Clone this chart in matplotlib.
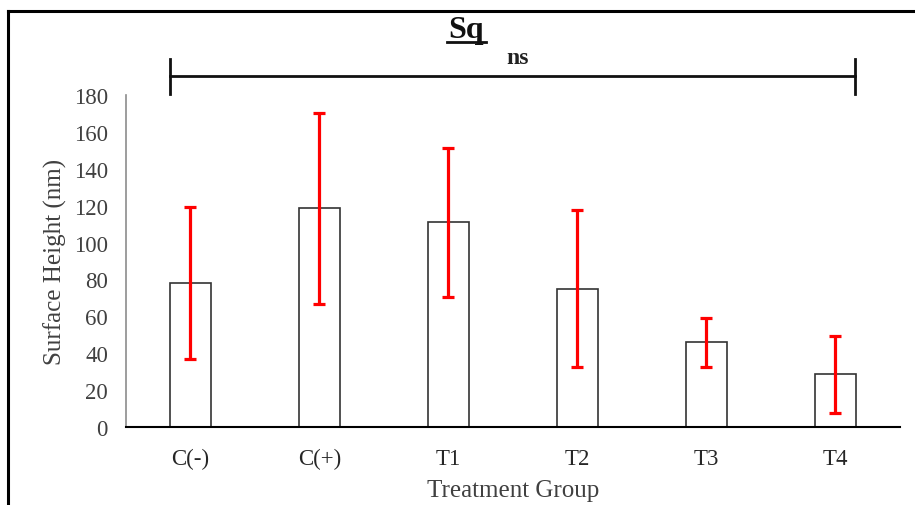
import matplotlib
matplotlib.use("Agg")
import matplotlib.pyplot as plt
from matplotlib.lines import Line2D

categories = ["C(-)", "C(+)", "T1", "T2", "T3", "T4"]
means = [78, 118.5, 111, 75, 46, 28.5]
errors = [41, 52, 40.5, 42.5, 13.3, 21]
yticks = [0, 20, 40, 60, 80, 100, 120, 140, 160, 180]

plt.rcParams['font.family'] = ['Liberation Serif', 'DejaVu Serif']

fig = plt.figure(figsize=(9.15, 5.06), dpi=100)
ax = fig.add_axes([0.1377, 0.1542, 0.8459, 0.6561])

x = list(range(len(categories)))
ax.bar(x, means, width=0.32, color="white", edgecolor="#333333", linewidth=1.2, zorder=2)
ax.errorbar(x, means, yerr=errors, fmt="none", ecolor="#ff0000", elinewidth=2.3,
            capsize=4.5, capthick=2.3, zorder=3)

ax.set_xlim(-0.5, 5.5)
ax.set_ylim(0, 180)
ax.set_yticks(yticks)
ax.set_xticks(x)
ax.set_xticklabels(categories, fontsize=16.5, color="#262626")
ax.tick_params(axis="y", labelsize=16.5, length=0, pad=13, labelcolor="#404040")
ax.tick_params(axis="x", length=0, pad=15)
for s in ["top", "right"]:
    ax.spines[s].set_visible(False)
ax.spines["left"].set_color("#8c8c8c")
ax.spines["left"].set_linewidth(1.2)
ax.spines["bottom"].set_color("#000000")
ax.spines["bottom"].set_linewidth(1.5)

ax.set_ylabel("Surface Height (nm)", fontsize=18, color="#404040", labelpad=5)
ax.set_xlabel("Treatment Group", fontsize=18, color="#404040", labelpad=7)

# significance bracket (axes fraction coordinates)
bl, br, by, bt, bb = 0.057, 0.942, 1.057, 1.108, 1.003
for seg in ([(bl, br), (by, by)], [(bl, bl), (bb, bt)], [(br, br), (bb, bt)]):
    ax.add_line(Line2D(seg[0], seg[1], transform=ax.transAxes, color="#111111",
                       linewidth=2, clip_on=False))
ax.text(0.506, 1.112, "ns", transform=ax.transAxes, fontsize=17, fontweight="bold",
        ha="center", va="center", color="#222222")

# title
fig.text(0.509, 0.925, "Sq", fontsize=23, fontweight="bold", ha="center",
         va="baseline", color="#111111")
fig.add_artist(Line2D([447 / 915, 486 / 915], [1 - 43 / 506, 1 - 43 / 506],
                      transform=fig.transFigure, color="#111111", linewidth=2))

# outer frame (top and left edges)
fig.add_artist(Line2D([8 / 915, 1.0], [1 - 12 / 506, 1 - 12 / 506],
                      transform=fig.transFigure, color="black", linewidth=2.2))
fig.add_artist(Line2D([8 / 915, 8 / 915], [0.0, 1 - 12 / 506],
                      transform=fig.transFigure, color="black", linewidth=2.2))

fig.savefig("out.png", dpi=100)
